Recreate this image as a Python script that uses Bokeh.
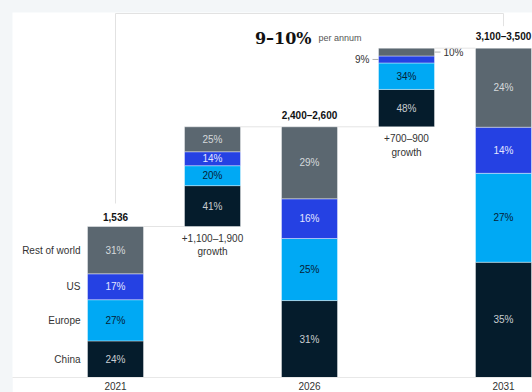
import numpy as np
from bokeh.plotting import figure
from bokeh.models import ColumnDataSource, Range1d, FixedTicker
from bokeh.layouts import column
from bokeh.core.properties import value
from bokeh.embed import file_html
from bokeh.resources import INLINE

# ---------------- data ----------------
bars = ["2021", "growth 2021-26", "2026", "growth 2026-31", "2031"]
bar_bottom = [0, 1536, 0, 2550, 0]
bar_top = [1536, 2550, 2550, 3350, 3350]
regions = ["China", "Europe", "US", "Rest of world"]
china = [24, 41, 31, 48, 35]
europe = [27, 20, 25, 34, 27]
us = [17, 14, 16, 9, 14]
rest = [31, 25, 29, 10, 24]
total_labels = ["1,536", "", "2,400–2,600", "", "3,100–3,500"]
growth_labels = ["", "+1,100–1,900\ngrowth", "", "+700–900\ngrowth", ""]
year_positions = [0, 2, 4]
year_labels = ["2021", "2026", "2031"]
cagr_label = "9–10%"
cagr_note = "per annum"

# ---------------- style ----------------
FONT = value("Liberation Sans")
seg_colors = ["#051c2c", "#00a9f4", "#2541e3", "#5b6770"]
seg_text_colors = ["#c9cdd1", "#062236", "#e3e6ff", "#d5d9dc"]
PX_X = 97.0                 # pixels per bar slot
PX_Y = 151.0 / 1536.0       # pixels per unit
FIG_W = 520
FRAME_H = 365
BOTTOM = 24
FIG_H = FRAME_H + BOTTOM
x_start = -103.0 / PX_X
x_end = x_start + FIG_W / PX_X
y_end = FRAME_H / PX_Y
bw = 56.0 / PX_X

p = figure(width=FIG_W, height=FIG_H, output_backend="svg", toolbar_location=None,
           x_range=Range1d(x_start, x_end), y_range=Range1d(0, y_end),
           min_border_left=0, min_border_right=0, min_border_top=0,
           min_border_bottom=BOTTOM, background_fill_color="white",
           border_fill_color="white")
p.margin = (12, 0, 0, 12)
p.outline_line_color = None
p.grid.visible = False
p.yaxis.visible = False
p.xaxis.ticker = FixedTicker(ticks=year_positions)
p.xaxis.major_label_overrides = {k: v for k, v in zip(year_positions, year_labels)}
p.xaxis.axis_line_color = "#e8e8e8"
p.xaxis.major_tick_line_color = None
p.xaxis.minor_tick_line_color = None
p.xaxis.major_tick_out = 0
p.xaxis.major_tick_in = 0
p.xaxis.major_label_standoff = 4
p.xaxis.major_label_text_font_size = "10px"
p.xaxis.major_label_text_font = "Liberation Sans"
p.xaxis.major_label_text_color = "#333333"

# ---------------- segments ----------------
shares = np.array([china, europe, us, rest], dtype=float)  # regions x bars
segs = dict(left=[], right=[], bottom=[], top=[], color=[])
labs = dict(x=[], y=[], text=[], color=[], xo=[], align=[])
leaders = dict(x0=[], x1=[], y=[])
for i in range(len(bars)):
    h = bar_top[i] - bar_bottom[i]
    col = shares[:, i]
    cum = bar_bottom[i]
    for r in range(len(regions)):
        sh = h * col[r] / col.sum()
        b, t = cum, cum + sh
        cum = t
        segs["left"].append(i - bw / 2)
        segs["right"].append(i + bw / 2)
        segs["bottom"].append(b)
        segs["top"].append(t)
        segs["color"].append(seg_colors[r])
        mid = (b + t) / 2
        labs["y"].append(mid)
        labs["text"].append(f"{int(col[r])}%")
        if sh * PX_Y < 10:
            side = -1 if r % 2 == 0 else 1
            labs["x"].append(i + side * bw / 2)
            labs["xo"].append(side * 9)
            labs["align"].append("right" if side < 0 else "left")
            labs["color"].append("#333333")
            leaders["x0"].append(i + side * bw / 2)
            leaders["x1"].append(i + side * (bw / 2 + 6 / PX_X))
            leaders["y"].append(mid)
        else:
            labs["x"].append(i)
            labs["xo"].append(0)
            labs["align"].append("center")
            labs["color"].append(seg_text_colors[r])

p.quad(left="left", right="right", bottom="bottom", top="top", fill_color="color",
       line_color="#ffffff", line_alpha=0.5, line_width=0.8,
       source=ColumnDataSource(segs))
p.text(x="x", y="y", text="text", text_color="color", x_offset="xo", text_align="align",
       text_baseline="middle", text_font=FONT, text_font_size="10px",
       source=ColumnDataSource(labs))
p.segment(x0="x0", x1="x1", y0="y", y1="y", line_color="#9a9a9a", line_width=0.8,
          source=ColumnDataSource(leaders))

# connectors between bars
conn = dict(x0=[], x1=[], y=[])
for i in range(len(bars) - 1):
    conn["x0"].append(i + bw / 2)
    conn["x1"].append(i + 1 - bw / 2)
    conn["y"].append(bar_top[i])
p.segment(x0="x0", x1="x1", y0="y", y1="y", line_color="#e4e4e4", line_width=1,
          source=ColumnDataSource(conn))

# region labels next to first bar
reg_y = labs["y"][:len(regions)]
p.text(x=[0] * len(regions), y=reg_y, text=regions, x_offset=-35, text_align="right",
       text_baseline="middle", text_font=FONT, text_font_size="10px", text_color="#333333")

# total labels above bars
tot_idx = [i for i, t in enumerate(total_labels) if t]
p.text(x=tot_idx, y=[bar_top[i] for i in tot_idx], text=[total_labels[i] for i in tot_idx],
       y_offset=-6, text_align="center", text_baseline="bottom", text_font=FONT,
       text_font_size="10px", text_font_style="bold", text_color="#111111")

# growth labels below growth bars
g_idx = [i for i, t in enumerate(growth_labels) if t]
p.text(x=g_idx, y=[bar_bottom[i] for i in g_idx], text=[growth_labels[i] for i in g_idx],
       y_offset=6, text_align="center", text_baseline="top", text_font=FONT,
       text_font_size="10px", text_color="#333333", text_line_height=1.25)

# bracket with CAGR
top_line = y_end - 1 / PX_Y
first, last = year_positions[0], year_positions[-1]
p.line(x=[first, first, last, last],
       y=[bar_top[0] + 23 / PX_Y, top_line, top_line, bar_top[-1] + 22 / PX_Y],
       line_color="#e2e2e2", line_width=1)
p.text(x=[year_positions[1]], y=[top_line], text=[cagr_label], x_offset=2, y_offset=25,
       text_align="right", text_baseline="alphabetic", text_font=value("DejaVu Serif"),
       text_font_size="16px", text_font_style="bold", text_color="#111111")
p.text(x=[year_positions[1]], y=[top_line], text=[cagr_note], x_offset=9, y_offset=24,
       text_align="left", text_baseline="alphabetic", text_font=FONT,
       text_font_size="9px", text_color="#555555")

layout = column(p, styles={"background-color": "#f3f6f8"})
open("out.html", "w").write(file_html(layout, INLINE))
